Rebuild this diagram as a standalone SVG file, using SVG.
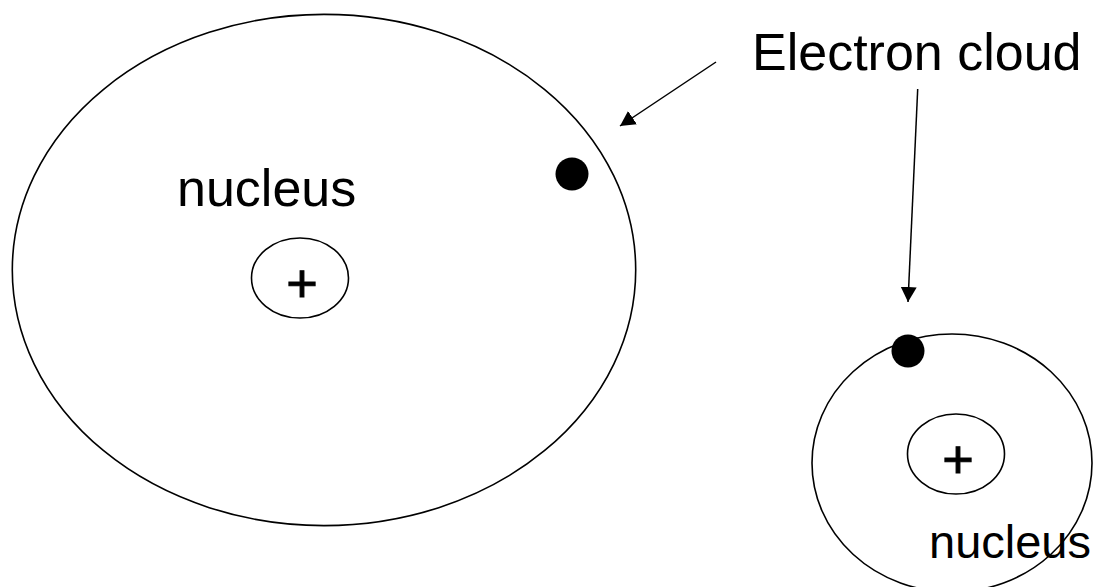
<svg xmlns="http://www.w3.org/2000/svg" width="1093" height="587" viewBox="0 0 1093 587">
<style>
.ring{fill:none;stroke:#000;stroke-width:1.6}
.dot{fill:#000}
.lbl{font-family:"Liberation Sans",Arial,sans-serif;fill:#000}
.plus{font-family:"Liberation Sans",Arial,sans-serif;fill:#000;stroke:#000;stroke-width:1;font-size:54px}
.conn{stroke:#000;stroke-width:1.5;fill:none}
</style>
<defs>
<marker id="ah" markerUnits="userSpaceOnUse" markerWidth="16" markerHeight="16" refX="15" refY="8" orient="auto" viewBox="0 0 16 16">
<path d="M0,0 L15,8 L0,16 z" fill="#000"/>
</marker>
</defs>
<rect width="1093" height="587" fill="#fff"/>
<g id="atom-large">
<ellipse class="ring" cx="324" cy="270" rx="311.7" ry="255.6"/>
<ellipse class="ring" cx="300" cy="278" rx="48.5" ry="40"/>
<text class="plus" x="302" y="302" text-anchor="middle">+</text>
<text class="lbl" x="177" y="206" font-size="52">nucleus</text>
<circle class="dot" cx="572" cy="174" r="16.5"/>
</g>
<g id="atom-small">
<ellipse class="ring" cx="952" cy="463" rx="140" ry="129"/>
<ellipse class="ring" cx="956" cy="454" rx="48.5" ry="40"/>
<text class="plus" x="958" y="478" text-anchor="middle">+</text>
<text class="lbl" x="929" y="558" font-size="47">nucleus</text>
<circle class="dot" cx="908" cy="351" r="16.5"/>
</g>
<g id="label-electron-cloud">
<text class="lbl" x="752" y="70" font-size="52">Electron cloud</text>
</g>
<g id="connectors">
<line class="conn" x1="716" y1="62" x2="620" y2="126" marker-end="url(#ah)"/>
<line class="conn" x1="917.7" y1="89" x2="908" y2="302" marker-end="url(#ah)"/>
</g>
</svg>
